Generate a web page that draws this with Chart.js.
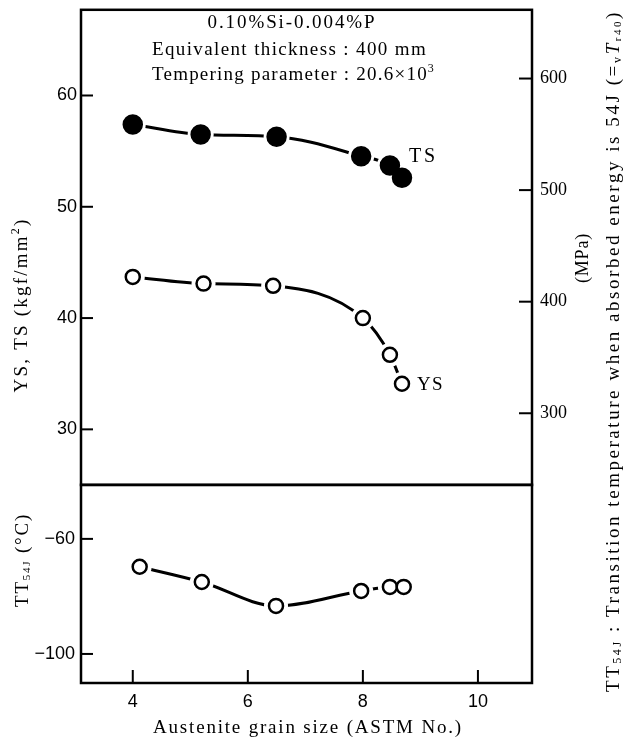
<!DOCTYPE html>
<html>
<head>
<meta charset="utf-8">
<script src="https://cdn.jsdelivr.net/npm/chart.js@4.4.0/dist/chart.umd.min.js"></script>
<style>
    html, body { margin: 0; padding: 0; background: #fff; }
    #wrap { position: relative; width: 626px; height: 745px; overflow: hidden; }
    /* chart.js keeps ~17px above the plot for the tick labels, so the canvases sit a bit higher */
    #topChart { position: absolute; left: 0; top: -9px; }
    #bottomChart { position: absolute; left: 0; top: 468px; }
</style>
</head>
<body>
<div id="wrap">
    <canvas id="topChart" width="626" height="754"></canvas>
    <canvas id="bottomChart" width="626" height="277"></canvas>
</div>
<script>
// grain size (ASTM No.) and measured values
const grainTS = [4.0, 5.18, 6.5, 7.97, 8.47, 8.68];
const tsValues = [57.4, 56.5, 56.3, 54.55, 53.7, 52.6];
const grainYS = [4.0, 5.23, 6.44, 8.0, 8.47, 8.68];
const ysValues = [43.7, 43.1, 42.9, 40.0, 36.7, 34.1];
const grainTT = [4.12, 5.2, 6.49, 7.97, 8.47, 8.71];
const ttValues = [-69.7, -75.0, -83.3, -78.1, -76.7, -76.7];

const xTicks = [4, 6, 8, 10];
const strengthTicks = [30, 40, 50, 60];
const mpaTicks = [300, 400, 500, 600];
const ttTicks = [-100, -60];

const SERIF = 'Liberation Serif';
const SANS = 'Liberation Sans';

function toPoints(xs, ys) {
    return xs.map((x, i) => ({ x: x, y: ys[i] }));
}

function seriesSets(xs, ys, filled) {
    const pts = toPoints(xs, ys);
    return [
        { data: pts, showLine: true, borderColor: '#000', borderWidth: 3, pointRadius: 0,
          cubicInterpolationMode: 'monotone', order: 3 },
        { data: pts, showLine: false, pointRadius: filled ? 13 : 12, pointBorderWidth: 0,
          pointBackgroundColor: '#fff', order: 2 },
        { data: pts, showLine: false, pointRadius: filled ? 9 : 7, pointBorderWidth: 2.5,
          pointBorderColor: '#000', pointBackgroundColor: filled ? '#000' : '#fff', order: 1 }
    ];
}

// draws text made of parts, stretched to a given length, optionally rotated
function drawText(ctx, parts, cx, cy, length, rotated, align) {
    const base = parts[0].size || 19;
    let natural = 0, chars = 0;
    ctx.save();
    ctx.letterSpacing = '0px';
    parts.forEach(p => {
        ctx.font = (p.italic ? 'italic ' : '') + (p.size || base) + 'px "' + (p.family || SERIF) + '"';
        p.w = ctx.measureText(p.text).width;
        natural += p.w;
        chars += p.text.length;
    });
    const spacing = length ? Math.max(0, (length - natural) / chars) : 0;
    const total = natural + spacing * chars;
    ctx.translate(cx, cy);
    if (rotated) ctx.rotate(-Math.PI / 2);
    ctx.fillStyle = '#000';
    ctx.textBaseline = 'middle';
    ctx.textAlign = 'left';
    ctx.letterSpacing = spacing.toFixed(2) + 'px';
    let x = align === 'left' ? 0 : -total / 2;
    parts.forEach(p => {
        ctx.font = (p.italic ? 'italic ' : '') + (p.size || base) + 'px "' + (p.family || SERIF) + '"';
        ctx.fillText(p.text, x, p.dy || 0);
        x += p.w + spacing * p.text.length;
    });
    ctx.restore();
}

const frameAndTicks = {
    id: 'frameAndTicks',
    afterDraw(chart) {
        const ctx = chart.ctx, a = chart.chartArea;
        ctx.save();
        ctx.strokeStyle = '#000';
        ctx.lineWidth = 2;
        Object.values(chart.scales).forEach(s => {
            if (!s.options.display) return;
            s.ticks.forEach(t => {
                const p = s.getPixelForValue(t.value);
                ctx.beginPath();
                if (s.position === 'left') { ctx.moveTo(a.left, p); ctx.lineTo(a.left + 12, p); }
                else if (s.position === 'right') { ctx.moveTo(a.right, p); ctx.lineTo(a.right - 13, p); }
                else { ctx.moveTo(p, a.bottom); ctx.lineTo(p, a.bottom - 13); }
                ctx.stroke();
            });
        });
        ctx.lineWidth = 2.5;
        ctx.strokeRect(a.left, a.top, a.right - a.left, a.bottom - a.top);
        ctx.restore();
    }
};

const topTexts = {
    id: 'topTexts',
    afterDraw(chart) {
        const ctx = chart.ctx;
        ctx.save();
        ctx.translate(0, 9); // page coordinates
        drawText(ctx, [{ text: '0.10%Si-0.004%P' }], 292, 23, 169, false);
        drawText(ctx, [{ text: 'Equivalent thickness : 400 mm' }], 152, 50, 275, false, 'left');
        drawText(ctx, [{ text: 'Tempering parameter : 20.6\u00d710' }, { text: '3', size: 12, dy: -6 }],
            152, 75, 283, false, 'left');
        drawText(ctx, [{ text: 'TS', size: 20 }], 409, 157, 29, false, 'left');
        drawText(ctx, [{ text: 'YS', size: 19 }], 417, 385, 27, false, 'left');
        drawText(ctx, [{ text: 'YS, TS (kgf/mm' }, { text: '2', size: 12, dy: -6 }, { text: ')' }],
            22, 305, 175, true);
        drawText(ctx, [{ text: '(MPa)', size: 18 }], 583, 258, 50, true);
        drawText(ctx, [
            { text: 'TT' }, { text: '54J', size: 12, dy: 4 },
            { text: ' : Transition temperature when absorbed energy is 54J (=' },
            { text: 'v', size: 12, dy: 4 }, { text: 'T', italic: true },
            { text: 'r40', size: 11, dy: 4 }, { text: ')' }
        ], 614, 351, 682, true);
        ctx.restore();
    }
};

const bottomTexts = {
    id: 'bottomTexts',
    afterDraw(chart) {
        const ctx = chart.ctx;
        ctx.save();
        ctx.translate(0, -468); // page coordinates
        drawText(ctx, [{ text: 'TT' }, { text: '54J', size: 11, dy: 4 }, { text: ' (\u00b0C)' }],
            23, 560, 94, true);
        drawText(ctx, [{ text: 'Austenite grain size (ASTM No.)' }], 308, 728, 310, false);
        ctx.restore();
    }
};

function fixedTicks(values) {
    return function(scale) {
        scale.ticks = values.map(v => ({ value: v }));
    };
}

const tickFontSans = { family: SANS, size: 18 };

new Chart(document.getElementById('topChart'), {
    type: 'scatter',
    data: {
        datasets: [
            ...seriesSets(grainTS, tsValues, true),
            ...seriesSets(grainYS, ysValues, false)
        ]
    },
    options: {
        responsive: false,
        animation: false,
        layout: { padding: { top: 0, bottom: 260, left: 0, right: 0 } },
        plugins: { legend: { display: false }, tooltip: { enabled: false } },
        scales: {
            x: { type: 'linear', min: 3.1, max: 10.94, display: false },
            y: {
                type: 'linear', position: 'left', min: 25, max: 67.7,
                afterFit: s => { s.width = 81; },
                afterBuildTicks: fixedTicks(strengthTicks),
                grid: { display: false, drawTicks: false },
                border: { display: false },
                ticks: { font: tickFontSans, color: '#000', padding: 4 }
            },
            mpa: {
                type: 'linear', position: 'right', min: 235.7, max: 661.6,
                afterFit: s => { s.width = 94; },
                afterBuildTicks: fixedTicks(mpaTicks),
                grid: { display: false, drawTicks: false },
                border: { display: false },
                ticks: { font: { family: SERIF, size: 18 }, color: '#000', padding: 8 }
            }
        }
    },
    plugins: [frameAndTicks, topTexts]
});

new Chart(document.getElementById('bottomChart'), {
    type: 'scatter',
    data: { datasets: seriesSets(grainTT, ttValues, false) },
    options: {
        responsive: false,
        animation: false,
        layout: { padding: { top: 0, bottom: 0, left: 0, right: 94 } },
        plugins: { legend: { display: false }, tooltip: { enabled: false } },
        scales: {
            x: {
                type: 'linear', position: 'bottom', min: 3.1, max: 10.94,
                afterFit: s => { s.height = 62; },
                afterBuildTicks: fixedTicks(xTicks),
                grid: { display: false, drawTicks: false },
                border: { display: false },
                ticks: { font: tickFontSans, color: '#000', padding: 8 }
            },
            y: {
                type: 'linear', position: 'left', min: -110.1, max: -41.2,
                afterFit: s => { s.width = 81; },
                afterBuildTicks: fixedTicks(ttTicks),
                grid: { display: false, drawTicks: false },
                border: { display: false },
                ticks: {
                    font: tickFontSans, color: '#000', padding: 6,
                    callback: v => (v < 0 ? '\u2212' + Math.abs(v) : v)
                }
            }
        }
    },
    plugins: [frameAndTicks, bottomTexts]
});
</script>
</body>
</html>
